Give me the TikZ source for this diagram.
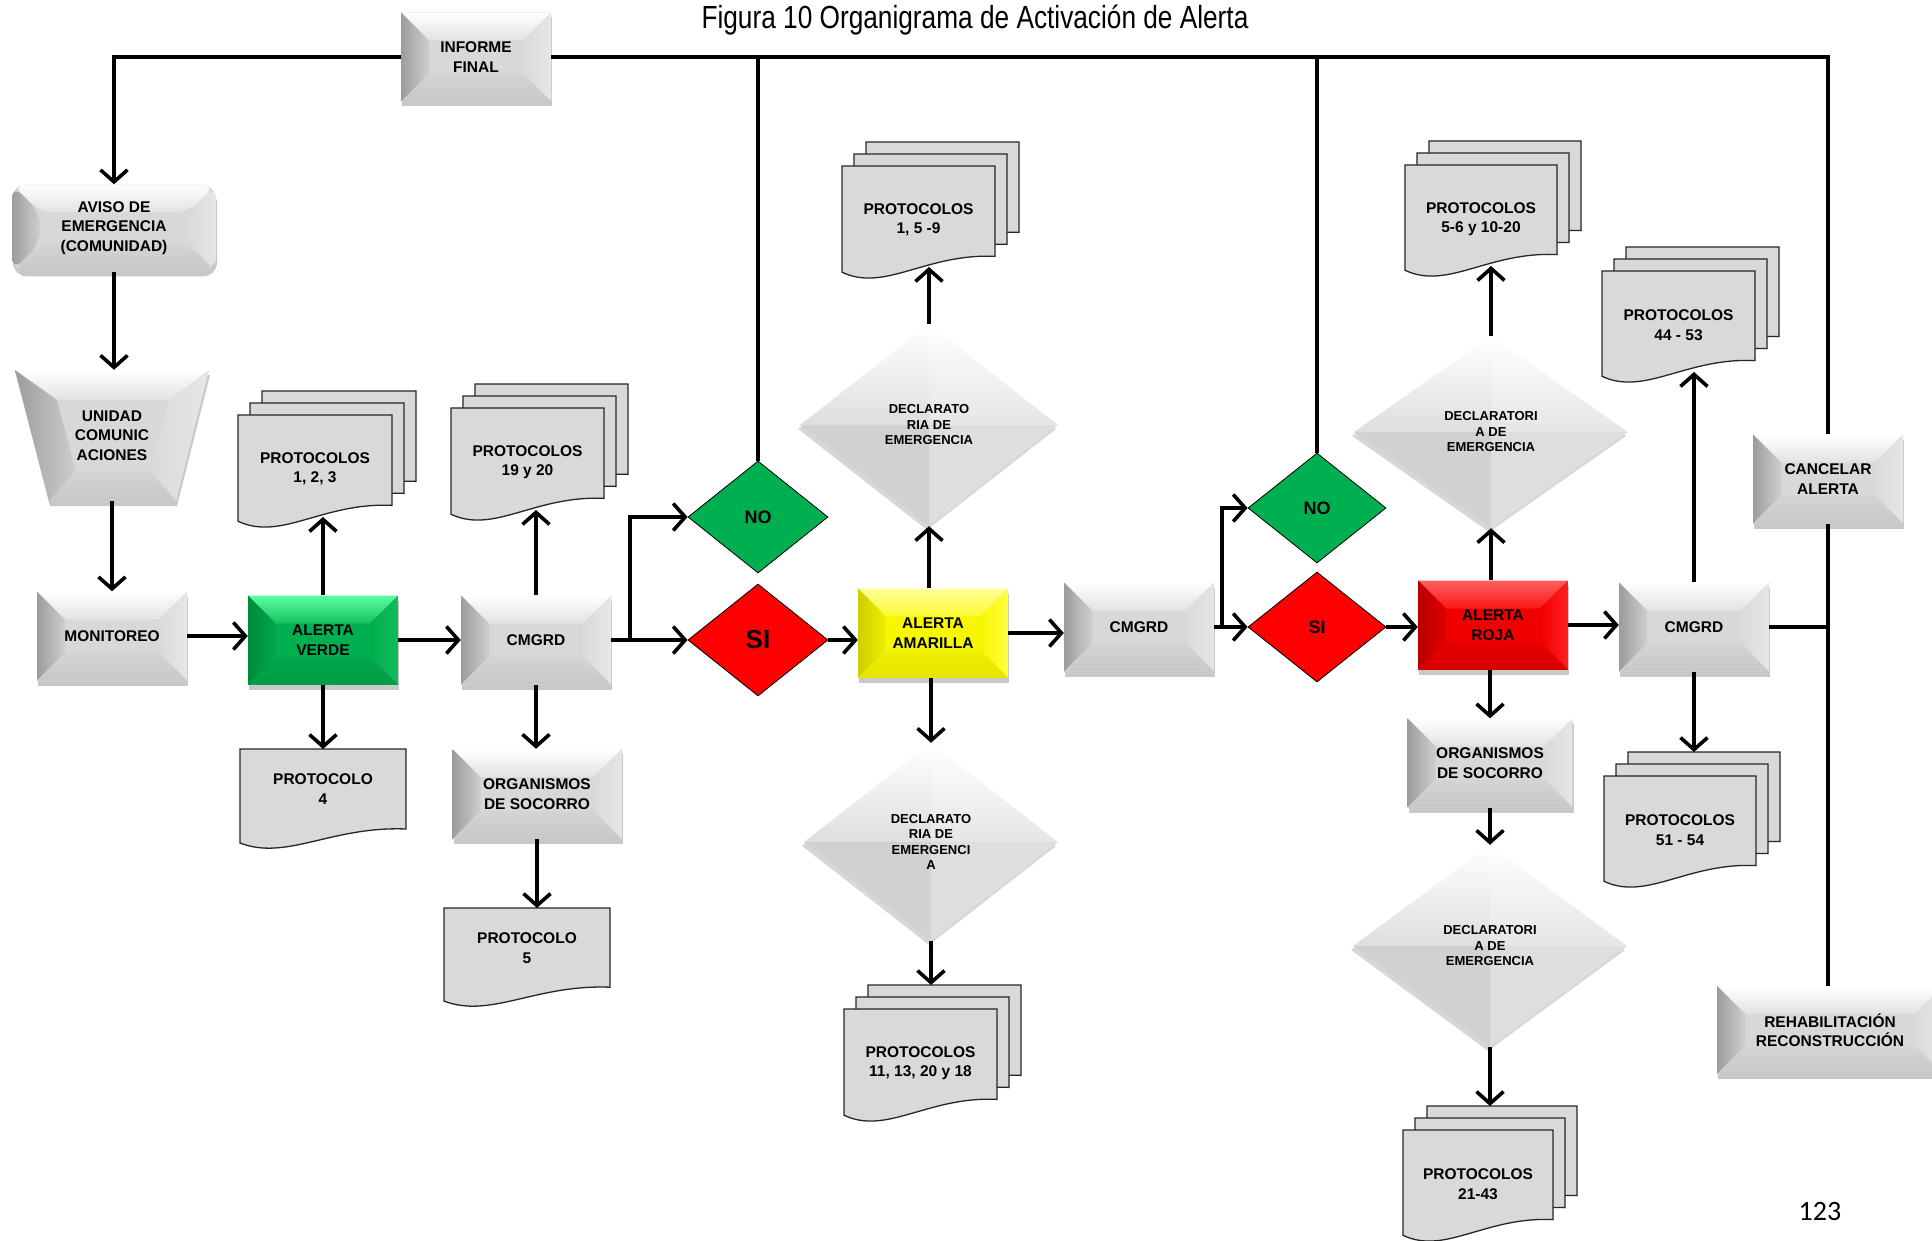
\documentclass[tikz,border=0pt]{standalone}
\usepackage{fontspec}
\setmainfont{Liberation Sans}
\newfontfamily\pgnfont{Carlito}
\usepackage{graphicx}
\usetikzlibrary{arrows.meta,shapes.geometric,shadows}

% gray bevel
\definecolor{gM}{HTML}{D8D8D8}
\definecolor{gT1}{HTML}{FFFFFF}\definecolor{gT2}{HTML}{E2E2E2}
\definecolor{gL1}{HTML}{9C9C9C}\definecolor{gL2}{HTML}{CECECE}
\definecolor{gR1}{HTML}{E6E6E6}\definecolor{gR2}{HTML}{DADADA}
\definecolor{gB1}{HTML}{C8C8C8}\definecolor{gB2}{HTML}{D4D4D4}
% green bevel
\definecolor{vM}{HTML}{00B050}
\definecolor{vT1}{HTML}{5CFFA0}\definecolor{vT2}{HTML}{14C060}
\definecolor{vL1}{HTML}{008A3C}\definecolor{vL2}{HTML}{00A84A}
\definecolor{vR1}{HTML}{12BC5C}\definecolor{vR2}{HTML}{00AE4E}
\definecolor{vB1}{HTML}{009C44}\definecolor{vB2}{HTML}{00A84C}
% yellow bevel
\definecolor{yM}{HTML}{F7F700}
\definecolor{yT1}{HTML}{FFFF9A}\definecolor{yT2}{HTML}{FAFA30}
\definecolor{yL1}{HTML}{CFCF00}\definecolor{yL2}{HTML}{EEEE00}
\definecolor{yR1}{HTML}{FFFF40}\definecolor{yR2}{HTML}{F6F600}
\definecolor{yB1}{HTML}{E4E400}\definecolor{yB2}{HTML}{F0F000}
% red bevel
\definecolor{rM}{HTML}{F00000}
\definecolor{rT1}{HTML}{FF6060}\definecolor{rT2}{HTML}{F81818}
\definecolor{rL1}{HTML}{B80000}\definecolor{rL2}{HTML}{E00000}
\definecolor{rR1}{HTML}{FF2020}\definecolor{rR2}{HTML}{F20000}
\definecolor{rB1}{HTML}{D60000}\definecolor{rB2}{HTML}{E80000}

\definecolor{noG}{HTML}{00B050}
\definecolor{siR}{HTML}{FF0000}
\definecolor{docF}{HTML}{D9D9D9}

\newcommand\bxfont{\bfseries\fontsize{15.5}{19.5}\selectfont}
\newcommand\decfont{\bfseries\fontsize{13}{15.5}\selectfont}

\tikzset{
  ln/.style={line width=3.8pt},
  arr/.style={line width=3.8pt, -{Straight Barb[length=12pt,width=27pt,line width=3.6pt]}},
  bevel/.style={path picture={
    \path (path picture bounding box.south west) coordinate (bSW)
          (path picture bounding box.north east) coordinate (bNE);
    \path (bSW) ++(28pt,28pt) coordinate (iSW);
    \path (bNE) ++(-28pt,-28pt) coordinate (iNE);
    \fill[#1M] (bSW) rectangle (bNE);
    \shade[top color=#1T1, bottom color=#1T2] (bSW|-bNE) -- (bNE) -- (iNE) -- (iSW|-iNE) -- cycle;
    \shade[left color=#1L1, right color=#1L2] (bSW|-bNE) -- (bSW) -- (iSW) -- (iSW|-iNE) -- cycle;
    \shade[left color=#1R2, right color=#1R1] (bNE) -- (bNE|-bSW) -- (iNE|-iSW) -- (iNE) -- cycle;
    \shade[top color=#1B2, bottom color=#1B1] (bSW) -- (bNE|-bSW) -- (iNE|-iSW) -- (iSW) -- cycle;
  }},
  bx/.style={rectangle, minimum width=150pt, minimum height=89pt, inner sep=0pt,
    align=center, font=\bxfont, bevel=g,
    drop shadow={shadow xshift=1pt, shadow yshift=-5pt, opacity=0.3, fill=black!70}},
  dec/.style={diamond, inner sep=0pt, minimum width=258pt, minimum height=202pt,
    align=center, font=\decfont,
    drop shadow={shadow xshift=-2pt, shadow yshift=-4pt, opacity=0.22, fill=black!70},
    path picture={
    \path (path picture bounding box.south west) coordinate (dSW)
          (path picture bounding box.north east) coordinate (dNE)
          (path picture bounding box.center) coordinate (dC);
    \shade[top color=white, bottom color=black!13] (dSW|-dC) -- (dC|-dNE) -- (dC) -- cycle;
    \shade[top color=white, bottom color=black!10] (dC|-dNE) -- (dNE|-dC) -- (dC) -- cycle;
    \fill[black!18] (dSW|-dC) -- (dC|-dSW) -- (dC) -- cycle;
    \fill[black!13] (dC|-dSW) -- (dNE|-dC) -- (dC) -- cycle;
  }},
  dia/.style={diamond, draw=black, line width=0.8pt, inner sep=0pt,
    minimum width=140pt, minimum height=112pt,
    font=\bfseries\fontsize{18}{20}\selectfont},
  docst/.style={fill=docF, draw=black!85, line width=1.3pt},
  doctext/.style={align=center, font=\bxfont, inner sep=0pt},
}

\newcommand\docsheet[4]{%
  \filldraw[docst] (#1,#2) -- (#1+#3,#2) -- (#1+#3,#2+0.8*#4)
    .. controls (#1+0.55*#3,#2+0.77*#4) and (#1+0.28*#3,#2+1.12*#4) .. (#1,#2+0.94*#4) -- cycle;}
\newcommand\docstack[6]{%
  \docsheet{#2+24}{#3-24}{#4}{#5}
  \docsheet{#2+12}{#3-12}{#4}{#5}
  \docsheet{#2}{#3}{#4}{#5}
  \node[doctext] (#1) at (#2+0.5*#4, #3+54) {#6};}
\newcommand\docsingle[6]{%
  \docsheet{#2}{#3}{#4}{#5}
  \node[doctext] (#1) at (#2+0.5*#4, #3+40) {#6};}

\begin{document}
\begin{tikzpicture}[x=1pt,y=-1pt]
\useasboundingbox (0,0) rectangle (1932,1241);
\clip (0,0) rectangle (1932,1241);
\fill[white] (0,0) rectangle (1932,1241);

% title
\node (title) at (975,20) {\scalebox{0.82}[1]{\fontsize{32}{36}\selectfont Figura 10 Organigrama de Activación de Alerta}};

% unidad trapezoid
\fill[black!70, opacity=0.3] (16,375) -- (210,375) -- (177,506) -- (50,506) -- cycle;
\fill[gM] (15,370) -- (209,370) -- (176,501) -- (49,501) -- cycle;
\shade[top color=gT1,bottom color=gT2] (15,370) -- (209,370) -- (169,400) -- (57,400) -- cycle;
\shade[left color=gL1,right color=gL2] (15,370) -- (57,400) -- (76,471) -- (49,501) -- cycle;
\shade[left color=gR2,right color=gR1] (209,370) -- (176,501) -- (150,471) -- (169,400) -- cycle;
\shade[top color=gB2,bottom color=gB1] (49,501) -- (176,501) -- (150,471) -- (76,471) -- cycle;
\node[minimum width=127pt, minimum height=131pt, inner sep=0pt, align=center, font=\bxfont] (unidad) at (112,435.5) {UNIDAD\\COMUNIC\\ACIONES};

% boxes
\node[bx] (inf) at (476,57) {INFORME\\FINAL};
\node[bx, rounded corners=14pt, minimum width=204pt, minimum height=87pt] (aviso) at (114,228) {AVISO DE\\EMERGENCIA\\(COMUNIDAD)};
\node[bx] (mon) at (112,636) {MONITOREO};
\node[bx, bevel=v] (verde) at (323,640) {ALERTA\\VERDE};
\node[bx] (cm1) at (536,640) {CMGRD};
\node[bx, minimum width=169pt, minimum height=90pt] (org1) at (537,794) {ORGANISMOS\\DE SOCORRO};
\node[dia, fill=noG] (no1) at (758,517) {NO};
\node[dia, fill=siR, font=\bfseries\fontsize{26}{28}\selectfont] (si1) at (758,640) {SI};
\node[bx, bevel=y] (amar) at (933,633) {ALERTA\\AMARILLA};
\node[dec] (decl1) at (929,425) {DECLARATO\\RIA DE\\EMERGENCIA};
\node[dec, minimum width=254pt, minimum height=198pt] (decl2) at (931,842) {DECLARATO\\RIA DE\\EMERGENCI\\A};
\node[bx] (cm2) at (1139,627) {CMGRD};
\node[dia, fill=noG, minimum width=138pt, minimum height=110pt] (no2) at (1317,508) {NO};
\node[dia, fill=siR, minimum width=138pt, minimum height=110pt] (si2) at (1317,627) {SI};
\node[bx, bevel=r] (roja) at (1493,625) {ALERTA\\ROJA};
\node[dec, minimum width=274pt, minimum height=192pt] (decl3) at (1491,432) {DECLARATORI\\A DE\\EMERGENCIA};
\node[bx, minimum width=165pt] (org2) at (1490,763) {ORGANISMOS\\DE SOCORRO};
\node[dec, minimum width=274pt, minimum height=202pt] (decl4) at (1490,946) {DECLARATORI\\A DE\\EMERGENCIA};
\node[bx] (cm3) at (1694,627) {CMGRD};
\node[bx] (cancel) at (1828,479) {CANCELAR\\ALERTA};
\node[bx, minimum width=226pt, minimum height=88pt] (rehab) at (1830,1030) {REHABILITACIÓN\\RECONSTRUCCIÓN};

% documents
\docstack{p123}{238}{415}{154}{113}{PROTOCOLOS\\1, 2, 3}
\docsingle{p4}{240}{749}{166}{100}{PROTOCOLO\\4}
\docstack{p19}{451}{408}{153}{113}{PROTOCOLOS\\19 y 20}
\docsingle{p5}{444}{908}{166}{99}{PROTOCOLO\\5}
\docstack{p159}{842}{166}{153}{113}{PROTOCOLOS\\1, 5 -9}
\docstack{p11}{844}{1009}{153}{113}{PROTOCOLOS\\11, 13, 20 y 18}
\docstack{p56}{1405}{165}{152}{112}{PROTOCOLOS\\5-6 y 10-20}
\docstack{p44}{1602}{271}{153}{112}{PROTOCOLOS\\44 - 53}
\docstack{p51}{1604}{776}{152}{112}{PROTOCOLOS\\51 - 54}
\docstack{p21}{1403}{1130}{150}{112}{PROTOCOLOS\\21-43}

\coordinate (p123b) at (323,517);
\coordinate (p4t) at (323,749);
\coordinate (p19b) at (536,510);
\coordinate (p5t) at (537,908);
\coordinate (p159b) at (929,267);
\coordinate (p11t) at (931,985);
\coordinate (p56b) at (1491,266);
\coordinate (p44b) at (1694,372);
\coordinate (p51t) at (1694,752);
\coordinate (p21t) at (1490,1106);
\coordinate (br1) at (630,640);
\coordinate (br2) at (1222,627);

% connectors
\draw[arr] (inf.west) -| (aviso.north);
\draw[ln] (inf.east) -| (cancel.north);
\draw[ln] (no1.north) -- (no1.north |- inf.east);
\draw[ln] (no2.north) -- (no2.north |- inf.east);
\draw[ln] (cancel.south) -- (cancel.south |- rehab.north);
\draw[ln] (cm3.east) -- (cm3.east -| cancel.south);
\draw[arr] (aviso.south) -- (aviso.south |- unidad.north);
\draw[arr] (unidad.south) -- (mon.north);
\draw[arr] (mon.east) -- (mon.east -| verde.west);
\draw[arr] (verde.east) -- (verde.east -| cm1.west);
\draw[arr] (verde.north) -- (p123b);
\draw[arr] (verde.south) -- (p4t);
\draw[arr] (cm1.north) -- (p19b);
\draw[arr] (cm1.south) -- (cm1.south |- org1.north);
\draw[arr] (org1.south) -- (p5t);
\draw[arr] (cm1.east) -- (si1.west);
\draw[arr] (br1) |- (no1.west);
\draw[arr] (si1.east) -- (si1.east -| amar.west);
\draw[arr] (amar.north -| decl1.south) -- (decl1.south);
\draw[arr] (decl1.north) -- (p159b);
\draw[arr] (amar.south -| decl2.north) -- (decl2.north);
\draw[arr] (decl2.south) -- (p11t);
\draw[arr] (amar.east) -- (amar.east -| cm2.west);
\draw[arr] (cm2.east) -- (si2.west);
\draw[arr] (br2) |- (no2.west);
\draw[arr] (si2.east) -- (si2.east -| roja.west);
\draw[arr] (roja.north -| decl3.south) -- (decl3.south);
\draw[arr] (decl3.north) -- (p56b);
\draw[arr] (roja.south -| org2.north) -- (org2.north);
\draw[arr] (org2.south) -- (decl4.north);
\draw[arr] (decl4.south) -- (p21t);
\draw[arr] (roja.east) -- (roja.east -| cm3.west);
\draw[arr] (cm3.north) -- (p44b);
\draw[arr] (cm3.south) -- (p51t);

\node[font=\pgnfont\fontsize{28}{30}\selectfont] (pgn) at (1820,1211) {123};
\end{tikzpicture}
\end{document}
